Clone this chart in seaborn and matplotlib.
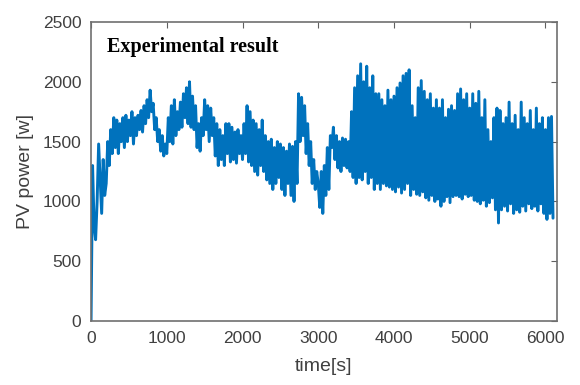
import numpy as np
import pandas as pd
import matplotlib
matplotlib.use("Agg")
import matplotlib.pyplot as plt
import seaborn as sns

# PV power, one value every 20 s (rows = 200 s)
pv_power = [
    0, 1300, 800, 680, 1000, 1480, 1200, 900, 1350, 1050,
    1150, 1500, 1300, 1600, 1400, 1700, 1450, 1680, 1400, 1650,
    1500, 1700, 1450, 1720, 1500, 1680, 1550, 1750, 1480, 1700,
    1550, 1720, 1600, 1760, 1580, 1800, 1650, 1850, 1700, 1930,
    1750, 1820, 1600, 1700, 1500, 1600, 1420, 1550, 1380, 1480,
    1400, 1700, 1500, 1800, 1480, 1850, 1550, 1750, 1600, 1830,
    1620, 1900, 1700, 1950, 1650, 2000, 1620, 1880, 1600, 1800,
    1450, 1650, 1420, 1700, 1550, 1850, 1600, 1800, 1500, 1780,
    1550, 1700, 1380, 1650, 1300, 1600, 1350, 1550, 1300, 1650,
    1400, 1650, 1330, 1620, 1350, 1580, 1320, 1600, 1400, 1550,
    1350, 1650, 1400, 1800, 1330, 1750, 1300, 1680, 1250, 1650,
    1220, 1600, 1300, 1680, 1250, 1550, 1180, 1500, 1150, 1520,
    1100, 1450, 1150, 1500, 1200, 1480, 1100, 1450, 1050, 1420,
    1150, 1480, 1050, 1460, 1000, 1500, 1150, 1900, 1500, 1870,
    1550, 1800, 1400, 1650, 1300, 1500, 1150, 1350, 1100, 1250,
    1150, 950, 1250, 900, 1300, 1050, 1450, 1100, 1550, 1450,
    1620, 1350, 1550, 1280, 1500, 1250, 1530, 1300, 1520, 1280,
    1500, 1250, 1750, 1200, 1950, 1150, 2050, 1200, 2150, 1180,
    2000, 1250, 2130, 1150, 1950, 1200, 2050, 1100, 1900, 1150,
    1900, 1100, 1850, 1150, 1800, 1130, 1930, 1120, 1850, 1100,
    1880, 1080, 1950, 1120, 1990, 1070, 2050, 1100, 2070, 1150,
    2100, 1050, 1800, 1100, 1700, 1060, 1950, 1050, 2010, 1080,
    1920, 1030, 1850, 1010, 1900, 1050, 1780, 1000, 1850, 1020,
    1780, 960, 1850, 1000, 1700, 1040, 1770, 990, 1800, 1040,
    1760, 1050, 1900, 1040, 1940, 1020, 1850, 1060, 1900, 1040,
    1780, 1050, 1900, 1010, 1820, 1000, 1920, 980, 1700, 1010,
    1850, 960, 1600, 990, 1500, 1030, 1700, 930, 1780, 820,
    1760, 930, 1650, 960, 1700, 920, 1830, 980, 1650, 900,
    1720, 930, 1600, 910, 1830, 960, 1700, 920, 1650, 980,
    1760, 940, 1600, 960, 1780, 920, 1650, 980, 1700, 900,
    1600, 850, 1700, 900, 1710, 860,
]
time_s = np.arange(len(pv_power)) * 20

x_ticks = [0, 1000, 2000, 3000, 4000, 5000, 6000]
y_ticks = [0, 500, 1000, 1500, 2000, 2500]

df = pd.DataFrame({"time": time_s, "power": pv_power})

sns.set_style("white")
plt.rcParams["font.family"] = ["Liberation Sans", "DejaVu Sans"]

fig = plt.figure(figsize=(5.8, 3.85), dpi=100)
ax = fig.add_axes([0.157, 0.166, 0.803, 0.777])

sns.lineplot(data=df, x="time", y="power", ax=ax, color="#0072BD", linewidth=2.1)

ax.set_xlim(0, 6150)
ax.set_ylim(0, 2500)
ax.set_xticks(x_ticks)
ax.set_yticks(y_ticks)
ax.tick_params(direction="in", top=True, right=True, length=4, width=0.8,
               colors="#606060", labelcolor="#404040", labelsize=12.5, pad=7)
for s in ax.spines.values():
    s.set_color("#707070")
    s.set_linewidth(1.2)

ax.set_xlabel("time[s]", fontsize=14, color="#404040", labelpad=9)
ax.set_ylabel("PV power [w]", fontsize=14, color="#404040", labelpad=6)

ax.text(0.035, 0.915, "Experimental result", transform=ax.transAxes,
        fontsize=14.5, fontweight="bold", family="Liberation Serif",
        va="center", ha="left", color="black")

plt.savefig("out.png", dpi=100)
plt.close()
